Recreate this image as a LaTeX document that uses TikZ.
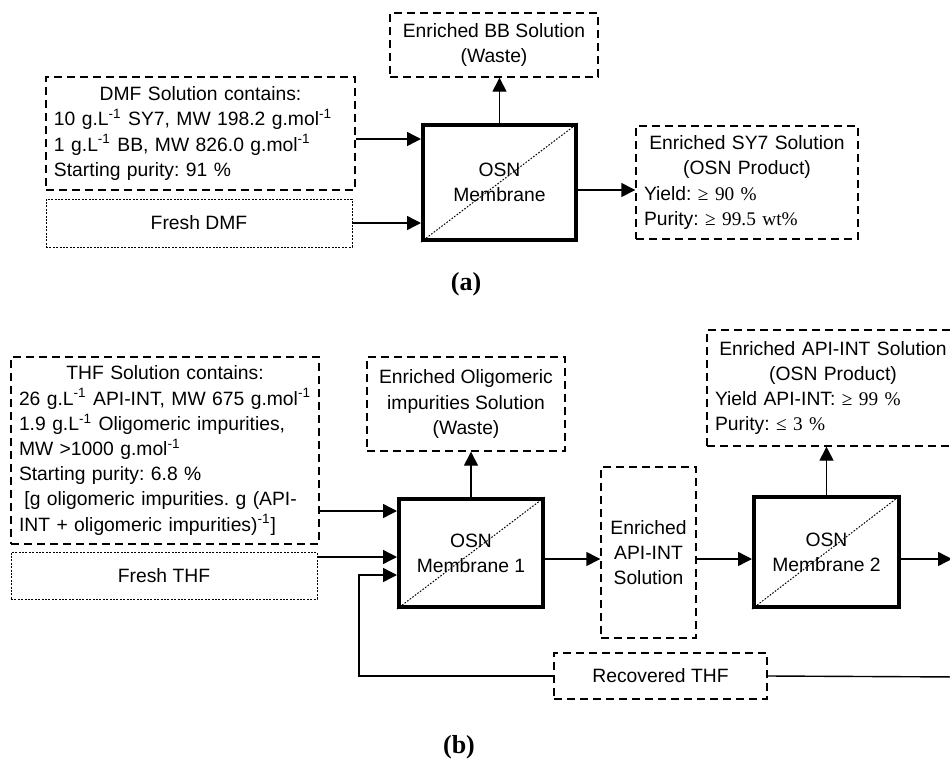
\documentclass[tikz,border=0pt]{standalone}
\usepackage{fontspec}
\setmainfont{Liberation Sans}
\newfontfamily\tms{Liberation Serif}
\usetikzlibrary{arrows.meta}

\tikzset{
  dbox/.style={draw, line width=0.7pt, dash pattern=on 4pt off 2.5pt, inner xsep=4pt, inner ysep=2pt},
  fbox/.style={draw, line width=0.45pt, dash pattern=on 1pt off 0.7pt},
  mem/.style={draw, line width=2pt, align=center},
  flow/.style={line width=0.7pt, -{Triangle[length=7pt,width=7pt]}},
  diag/.style={line width=0.5pt, dash pattern=on 0.8pt off 0.8pt},
  tag/.style={font=\tms\bfseries\fontsize{13}{15}\selectfont},
}
\newcommand{\inv}{\textsuperscript{-1}}

\begin{document}
\begin{tikzpicture}[x=0.5pt, y=-0.5pt, every node/.style={font=\fontsize{9.65}{12.6}\selectfont\frenchspacing}]
  \useasboundingbox (0,0) rectangle (950,761);

  % (a) single membrane
  \node[dbox, minimum width=154.5pt, minimum height=56.5pt, text width=146.5pt, align=left] (dmf) at (200.5,133.5)
    {\makebox[\linewidth]{DMF Solution contains:}\\
     10 g.L\inv{} SY7, MW 198.2 g.mol\inv\\
     1 g.L\inv{} BB, MW 826.0 g.mol\inv\\
     Starting purity: 91 \%};
  \node[fbox, minimum width=153pt, minimum height=24pt] (fdmf) at (199,223) {Fresh DMF};
  \node[dbox, minimum width=104pt, minimum height=32pt, align=center] (bb) at (494,45) {Enriched BB Solution\\(Waste)};
  \node[mem, minimum width=76.5pt, minimum height=57.5pt] (osn) at (499.5,182.5) {OSN\\Membrane};
  \node[dbox, minimum width=111pt, minimum height=56.5pt, text width=103pt, align=left] (sy7) at (747,182.5)
    {\makebox[\linewidth]{Enriched SY7 Solution}\\
     \makebox[\linewidth]{(OSN Product)}\\
     Yield: {\tms ≥ 90 \%}\\
     Purity: {\tms ≥ 99.5 wt\%}};
  \node[tag] (lbla) at (466,284) {(a)};

  \draw[diag] (osn.south west) -- (osn.north east);

  \coordinate (a1) at ([yshift=-8pt]osn.north west);
  \coordinate (a2) at ([yshift=-3.75pt]osn.east);
  \draw[flow] (dmf.east |- a1) -- (a1);
  \draw[flow] (fdmf.east) -- (fdmf.east -| osn.west);
  \draw[flow] (osn.north) -- (osn.north |- bb.south);
  \draw[flow] (a2) -- (a2 -| sy7.west);

  % (b) two membranes with solvent recycle
  \node[dbox, minimum width=154pt, minimum height=93.5pt, text width=146pt, align=left] (thf) at (165,450.5)
    {\makebox[\linewidth]{THF Solution contains:}\\
     \mbox{26 g.L\inv{} API-INT, MW 675 g.mol\inv}\\
     1.9 g.L\inv{} Oligomeric impurities,\\
     MW >1000 g.mol\inv\\
     Starting purity: 6.8 \%\\
     \hspace*{2.7pt}[g oligomeric impurities. g (API-\\
     INT + oligomeric impurities)\inv]};
  \node[fbox, minimum width=153pt, minimum height=23.5pt] (fthf) at (164,575.5) {Fresh THF};
  \node[dbox, minimum width=99pt, minimum height=47pt, align=center] (olig) at (466,404)
    {Enriched Oligomeric\\impurities Solution\\(Waste)};
  \node[mem, minimum width=72pt, minimum height=54pt] (m1) at (471,553) {OSN\\Membrane 1};
  \node[dbox, minimum width=47.5pt, minimum height=85.5pt, align=center] (api) at (648.5,552.5)
    {Enriched\\API-INT\\Solution};
  \node[mem, minimum width=72.5pt, minimum height=55pt] (m2) at (826.5,552) {OSN\\Membrane 2};
  \node[dbox, minimum width=126pt, minimum height=58pt, text width=118pt, align=left] (prod) at (833,388)
    {\makebox[\linewidth]{Enriched API-INT Solution}\\
     \makebox[\linewidth]{(OSN Product)}\\
     Yield API-INT: {\tms ≥ 99 \%}\\
     Purity: {\tms ≤ 3 \%}};
  \node[dbox, minimum width=106.5pt, minimum height=23pt] (rec) at (660.5,676) {Recovered THF};
  \node[tag] (lblb) at (459,747) {(b)};

  \draw[diag] (m1.south west) -- (m1.north east);
  \draw[diag] (m2.south west) -- (m2.north east);

  \coordinate (b1) at ([yshift=-7pt]m1.north west);
  \coordinate (b2) at ([yshift=-30pt]m1.north west);
  \coordinate (b3) at ([yshift=-39pt]m1.north west);
  \coordinate (b4) at ([yshift=-3pt]m1.east);
  \coordinate (outb) at (952,559);
  \coordinate (recr) at (960,677);
  \draw[flow] (thf.east |- b1) -- (b1);
  \draw[flow] (fthf.east |- b2) -- (b2);
  \draw[flow] (rec.west) -| ([xshift=-19pt]b3) -- (b3);
  \draw[flow] (m1.north) -- (m1.north |- olig.south);
  \draw[flow] (b4) -- (b4 -| api.west);
  \draw[flow] (b4 -| api.east) -- (b4 -| m2.west);
  \draw[flow] (m2.north) -- (m2.north |- prod.south);
  \draw[flow] (b4 -| m2.east) -- (outb);
  \draw[line width=0.7pt] (rec.east) -- (recr);
\end{tikzpicture}
\end{document}
